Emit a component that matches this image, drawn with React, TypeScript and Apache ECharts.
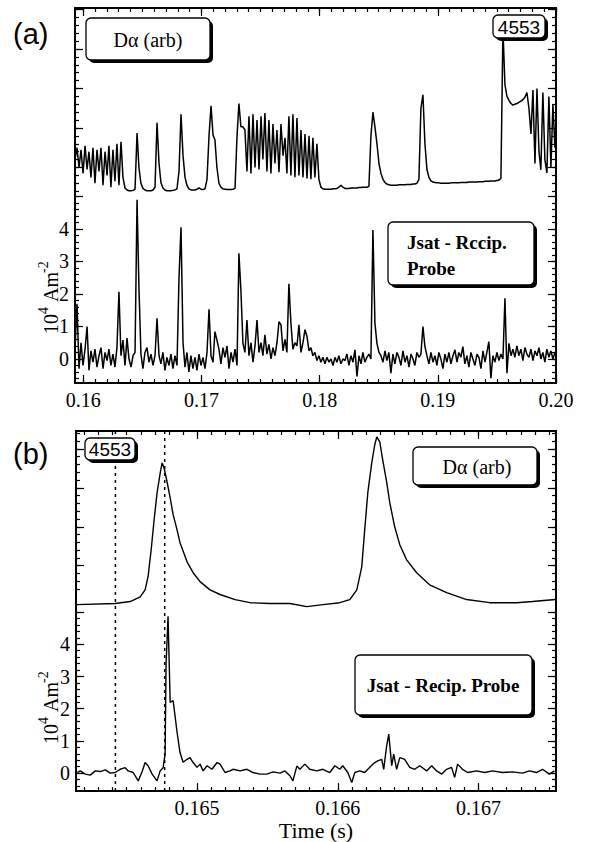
import React, { useEffect, useRef } from "react";
import * as echarts from "echarts";

// ---------- Panel (a): shared time grid (s) ----------
const timeA = [
  0.1593, 0.15947, 0.15964, 0.15981, 0.15998, 0.16015, 0.16032, 0.16048, 0.16065, 0.16082,
  0.16099, 0.16116, 0.16133, 0.1615, 0.16167, 0.16184, 0.16201, 0.16217, 0.16234, 0.16251,
  0.16268, 0.16285, 0.16302, 0.16319, 0.16336, 0.16353, 0.1637, 0.16387, 0.16404, 0.16421,
  0.16438, 0.16455, 0.16471, 0.16488, 0.16505, 0.16522, 0.16539, 0.16556, 0.16573, 0.1659,
  0.16607, 0.16624, 0.16641, 0.16657, 0.16674, 0.16691, 0.16708, 0.16725, 0.16742, 0.16759,
  0.16776, 0.16793, 0.1681, 0.16827, 0.16844, 0.16861, 0.16877, 0.16894, 0.16911, 0.16928,
  0.16945, 0.16962, 0.16979, 0.16996, 0.17013, 0.1703, 0.17047, 0.17064, 0.17081, 0.17098,
  0.17114, 0.17131, 0.17148, 0.17165, 0.17182, 0.17199, 0.17216, 0.17233, 0.1725, 0.17267,
  0.17284, 0.17301, 0.17317, 0.17334, 0.17351, 0.17368, 0.17385, 0.17402, 0.17419, 0.17436,
  0.17453, 0.1747, 0.17487, 0.17504, 0.1752, 0.17537, 0.17554, 0.17571, 0.17588, 0.17605,
  0.17622, 0.17639, 0.17656, 0.17673, 0.1769, 0.17707, 0.17723, 0.1774, 0.17757, 0.17774,
  0.17791, 0.17808, 0.17825, 0.17842, 0.17859, 0.17876, 0.17893, 0.1791, 0.17926, 0.17943,
  0.1796, 0.17977, 0.17994, 0.18011, 0.18028, 0.18045, 0.18062, 0.18079, 0.18096, 0.18113,
  0.1813, 0.18146, 0.18163, 0.1818, 0.18197, 0.18214, 0.18231, 0.18248, 0.18265, 0.18282,
  0.18299, 0.18316, 0.18333, 0.1835, 0.18366, 0.18383, 0.184, 0.18417, 0.18434, 0.18451,
  0.18468, 0.18485, 0.18502, 0.18519, 0.18536, 0.18553, 0.18569, 0.18586, 0.18603, 0.1862,
  0.18637, 0.18654, 0.18671, 0.18688, 0.18705, 0.18722, 0.18739, 0.18756, 0.18773, 0.1879,
  0.18806, 0.18823, 0.1884, 0.18857, 0.18874, 0.18891, 0.18908, 0.18925, 0.18942, 0.18959,
  0.18976, 0.18992, 0.19009, 0.19026, 0.19043, 0.1906, 0.19077, 0.19094, 0.19111, 0.19128,
  0.19145, 0.19162, 0.19178, 0.19195, 0.19212, 0.19229, 0.19246, 0.19263, 0.1928, 0.19297,
  0.19314, 0.19331, 0.19348, 0.19365, 0.19382, 0.19399, 0.19415, 0.19432, 0.19449, 0.19466,
  0.19483, 0.195, 0.19517, 0.19534, 0.19551, 0.19568, 0.19585, 0.19602, 0.19619, 0.19636,
  0.19652, 0.19669, 0.19686, 0.19703, 0.1972, 0.19737, 0.19754, 0.19771, 0.19788, 0.19805,
  0.19822, 0.19839, 0.19856, 0.19872, 0.19889, 0.19906, 0.19923, 0.1994, 0.19957, 0.19974,
  0.19991,
];

// Jsat (10^4 A m^-2), panel (a)
const jsatA = [
  0.3, 1.7, -0.3, 0.5, -0.2, 0.3, 1.0, -0.35, 0.25, -0.1,
  0.3, -0.25, 0.1, 0.35, -0.3, 0.2, -0.05, 0.3, -0.2, 0.15,
  -0.25, 0.35, 2.07, 0.1, 0.58, -0.2, 0.64, 0.0, -0.25, 0.1,
  0.2, 4.9, 2.2, 0.15, -0.3, 0.2, 0.35, -0.1, 0.15, -0.2,
  0.1, 1.25, 0.1, -0.15, 0.2, -0.35, 0.05, -0.2, 0.15, -0.3,
  0.1, -0.2, 2.5, 4.05, 0.5, -0.25, 0.2, -0.4, 0.1, -0.3,
  0.05, -0.35, 0.15, -0.2, 0.05, -0.3, 0.2, 1.53, 0.1, -0.1,
  0.84, 0.58, 0.3, -0.15, 0.35, 0.05, 0.4, -0.3, 0.2, -0.1,
  0.3, -0.2, 3.25, 2.1, 0.48, 0.2, 1.2, 0.1, 0.5, -0.1,
  0.4, 1.2, 0.2, 0.5, 0.1, 0.74, 0.15, 0.45, 0.0, 0.35,
  0.1, 0.5, 1.15, 1.05, 0.25, 0.6, 0.2, 2.31, 1.1, 0.3,
  0.5, 0.4, 1.05, 0.2, 0.5, 0.9, 0.69, 0.25, 0.35, 0.1,
  0.2, -0.05, 0.1, -0.1, 0.05, -0.15, 0.05, -0.1, 0.0, -0.2,
  0.05, -0.1, 0.1, -0.15, 0.0, -0.05, 0.15, -0.2, 0.1, -0.1,
  0.28, -0.54, 0.1, -0.15, 0.2, -0.1, 0.05, 0.15, 0.0, 3.97,
  1.1, 0.48, 0.2, 0.1, -0.1, 0.25, -0.05, 0.2, -0.44, 0.15,
  -0.15, 0.2, 0.05, -0.2, 0.25, -0.1, 0.1, -0.25, 0.15, 0.0,
  -0.2, 0.2, 0.05, 0.15, 1.0, 0.38, 0.1, -0.15, 0.2, -0.1,
  0.1, -0.2, 0.2, 0.0, -0.3, 0.15, -0.1, 0.2, -0.15, 0.1,
  0.28, -0.1, 0.2, 0.05, 0.38, -0.15, 0.1, -0.25, 0.2, 0.0,
  -0.2, 0.15, 0.05, -0.3, 0.25, -0.1, 0.2, 0.53, -0.59, 0.1,
  -0.1, 0.2, -0.05, 0.15, 0.0, 1.87, -0.44, 0.48, 0.1, 0.3,
  0.05, 0.4, 0.1, 0.3, -0.05, 0.35, 0.15, 0.05, 0.3, -0.05,
  0.25, 0.1, 0.35, 0.0, 0.2, -0.1, 0.3, 0.05, 0.25, 0.0,
  0.2,
];

// D-alpha (arb), panel (a)
const dalphaA = [
  1.2, 1.5, 1.0, 1.45, 0.85, 1.55, 0.95, 1.4, 0.75, 1.5,
  0.6, 1.45, 0.9, 1.5, 0.55, 1.4, 0.8, 1.55, 0.5, 1.45,
  0.65, 1.6, 0.55, 1.65, 0.75, 0.48, 0.43, 0.41, 0.41, 0.42,
  0.45, 1.87, 1.0, 0.6, 0.47, 0.43, 0.41, 0.41, 0.41, 0.43,
  0.5, 2.13, 1.1, 0.62, 0.48, 0.43, 0.41, 0.41, 0.41, 0.42,
  0.43, 0.46, 0.9, 2.35, 1.3, 0.75, 0.55, 0.46, 0.43, 0.43,
  0.43, 0.45, 0.48, 0.45, 0.44, 0.46, 0.7, 1.8, 2.56, 1.82,
  1.7, 1.0, 0.6, 0.5, 0.46, 0.45, 0.44, 0.44, 0.44, 0.45,
  0.47, 1.8, 2.62, 2.03, 2.03, 1.95, 0.9, 2.3, 0.85, 2.35,
  1.0, 2.2, 0.95, 2.3, 1.2, 2.38, 0.9, 2.2, 0.85, 2.1,
  1.1, 1.95, 0.88, 2.1, 1.3, 1.75, 0.85, 2.3, 0.8, 2.35,
  0.75, 2.25, 0.8, 1.95, 0.75, 1.85, 0.72, 1.8, 0.7, 1.75,
  0.75, 1.6, 0.7, 0.5, 0.46, 0.45, 0.45, 0.45, 0.45, 0.46,
  0.46, 0.47, 0.5, 0.55, 0.5, 0.47, 0.47, 0.47, 0.48, 0.48,
  0.48, 0.48, 0.49, 0.49, 0.5, 0.5, 0.5, 0.52, 1.8, 2.4,
  2.03, 1.6, 1.1, 0.85, 0.7, 0.62, 0.58, 0.56, 0.55, 0.55,
  0.55, 0.55, 0.56, 0.56, 0.56, 0.56, 0.57, 0.57, 0.57, 0.58,
  0.58, 0.6, 0.7, 2.5, 2.84, 1.6, 0.95, 0.75, 0.66, 0.63,
  0.62, 0.61, 0.61, 0.6, 0.6, 0.6, 0.6, 0.6, 0.61, 0.61,
  0.61, 0.61, 0.61, 0.62, 0.62, 0.62, 0.62, 0.63, 0.63, 0.63,
  0.63, 0.63, 0.64, 0.64, 0.64, 0.65, 0.65, 0.65, 0.66, 0.66,
  0.66, 0.67, 0.68, 0.72, 4.5, 3.1, 2.8, 2.7, 2.62, 2.58,
  2.6, 2.62, 2.65, 2.68, 2.72, 2.78, 2.9, 2.5, 1.85, 2.96,
  1.1, 3.0, 1.4, 0.94, 2.9, 1.2, 0.86, 2.8, 1.0, 2.6,
  1.5,
];

// ---------- Panel (b): [time (s), value] ----------
const dalphaB = [
  [0.164142, 0], [0.164418, 0.03], [0.164525, 0.08], [0.164596, 0.2], [0.164631, 0.38],
  [0.164652, 0.72], [0.164674, 1.41], [0.164695, 2.18], [0.164716, 2.87], [0.164738, 3.38],
  [0.164752, 3.64], [0.164766, 3.51], [0.164787, 3.15], [0.164809, 2.74], [0.16483, 2.31],
  [0.164858, 1.92], [0.164879, 1.59], [0.164929, 1.1], [0.164972, 0.82], [0.165021, 0.59],
  [0.165092, 0.38], [0.165163, 0.26], [0.16527, 0.13], [0.165376, 0.05], [0.165518, 0.03],
  [0.16566, 0.03], [0.16578, -0.05], [0.165894, 0], [0.166014, 0.05], [0.166085, 0.13],
  [0.166135, 0.38], [0.16617, 0.97], [0.166191, 1.92], [0.166213, 2.87], [0.166241, 3.64],
  [0.166262, 4.1], [0.166277, 4.31], [0.166298, 4.18], [0.166319, 3.72], [0.166348, 3.13],
  [0.166369, 2.62], [0.166404, 2.0], [0.16644, 1.54], [0.166489, 1.15], [0.16656, 0.82],
  [0.166652, 0.51], [0.166773, 0.31], [0.166915, 0.13], [0.167078, 0.05], [0.16727, 0.05],
  [0.167383, 0.08], [0.167546, 0.13],
];

const jsatB = [
  [0.164149, 0.02], [0.16417, 0.07], [0.164206, -0.03], [0.164241, -0.06], [0.164277, 0.07],
  [0.164312, 0.05], [0.164348, 0.1], [0.164383, 0], [0.164418, 0.02], [0.164454, 0.12],
  [0.164489, 0.17], [0.164511, 0.07], [0.164546, 0.02], [0.164582, -0.24], [0.16461, 0.05],
  [0.164631, 0.33], [0.164652, 0.23], [0.164681, -0.03], [0.164716, -0.24], [0.164738, 0.07],
  [0.164759, 0.17], [0.164773, 0.6], [0.16478, 3.4], [0.164794, 4.87], [0.164801, 3.6],
  [0.164809, 2.2], [0.16483, 2.25], [0.164858, 1.27], [0.164879, 0.64], [0.164901, 0.34],
  [0.164929, 0.43], [0.16495, 0.48], [0.164972, 0.33], [0.165, 0.18], [0.165021, 0.28],
  [0.165043, 0.07], [0.165071, 0.23], [0.165106, 0.12], [0.165142, 0.33], [0.165163, 0.28],
  [0.165199, 0.02], [0.165234, 0.07], [0.165255, 0.12], [0.165305, 0.07], [0.165355, 0.12],
  [0.165397, 0.02], [0.165447, -0.03], [0.165496, -0.03], [0.165539, 0.04], [0.165589, 0],
  [0.165624, 0.07], [0.16566, -0.08], [0.165681, -0.24], [0.165709, 0.22], [0.16573, 0.12],
  [0.165766, 0.28], [0.165801, 0.12], [0.165851, 0.07], [0.165894, 0.12], [0.165943, 0.02],
  [0.165979, 0.23], [0.166014, 0.12], [0.166035, 0.23], [0.166071, 0.02], [0.166099, -0.29],
  [0.166121, 0.02], [0.166156, 0.07], [0.166191, 0.02], [0.166227, 0.18], [0.166262, 0.33],
  [0.166284, 0.38], [0.166312, 0.43], [0.166326, 0.12], [0.166347, 0.85], [0.166362, 1.21],
  [0.166376, 0.55], [0.166383, 0.23], [0.166397, 0.59], [0.166418, 0.12], [0.16644, 0.48],
  [0.166475, 0.43], [0.166511, 0.18], [0.166546, 0.12], [0.166582, 0.23], [0.166631, 0.07],
  [0.166667, 0.23], [0.166702, 0.07], [0.166738, -0.03], [0.166773, 0.12], [0.166808, 0.18],
  [0.16683, -0.13], [0.166851, 0.28], [0.166886, 0.12], [0.166922, 0.02], [0.166986, 0.07],
  [0.167043, 0.02], [0.167099, 0.07], [0.16717, 0.02], [0.167241, 0.04], [0.167312, 0],
  [0.167362, 0.07], [0.167411, 0.02], [0.167454, 0.12], [0.167503, -0.03], [0.167539, 0.07],
];

// ---------- Tick labels ----------
const xTickValsA = [0.16, 0.17, 0.18, 0.19, 0.2];
const xTickLabelsA = ["0.16", "0.17", "0.18", "0.19", "0.20"];
const xTickValsB = [0.165, 0.166, 0.167];
const xTickLabelsB = ["0.165", "0.166", "0.167"];
const yTickValsJ = [0, 1, 2, 3, 4];
const yTickLabelsJ = ["0", "1", "2", "3", "4"];
const markerTimesB = [0.16442, 0.16477];

const SERIF = "Liberation Serif";
const SANS = "Liberation Sans";

function seq(a: number, b: number, step: number) {
  const out: number[] = [];
  const n = Math.round((b - a) / step);
  for (let i = 0; i <= n; i++) out.push(+(a + i * step).toFixed(6));
  return out;
}

function lookup(vals: number[], labels: string[]) {
  return (v: number) => {
    const i = vals.findIndex((t) => Math.abs(t - v) < 1e-7);
    return i >= 0 ? labels[i] : "";
  };
}

function axis(
  kind: "x" | "y",
  gridIndex: number,
  min: number,
  max: number,
  position: string,
  ticks: number[],
  len: number,
  showLine: boolean,
  labelVals?: number[],
  labels?: string[],
  extra?: any
) {
  return {
    type: "value",
    gridIndex,
    min,
    max,
    position,
    axisLine: { show: showLine, onZero: false, lineStyle: { color: "#000", width: 2 } },
    axisTick: {
      show: true,
      inside: true,
      length: len,
      customValues: ticks,
      lineStyle: { color: "#000", width: 1.2 },
    },
    axisLabel: labelVals
      ? {
          show: true,
          customValues: labelVals,
          formatter: lookup(labelVals, labels || []),
          color: "#000",
          fontFamily: SERIF,
          fontWeight: "normal",
          fontSize: 20,
          margin: kind === "x" ? 7 : 6,
        }
      : { show: false },
    splitLine: { show: false },
    axisPointer: { show: false },
    ...(extra || {}),
  };
}

function box(x: number, y: number, w: number, h: number) {
  return [
    { type: "rect", z: 99, silent: true, shape: { x: x + 3, y: y + 3, width: w, height: h, r: 5 }, style: { fill: "#000" } },
    { type: "rect", z: 100, silent: true, shape: { x, y, width: w, height: h, r: 5 }, style: { fill: "#fff", stroke: "#000", lineWidth: 1.3 } },
  ];
}

function txt(x: number, y: number, text: string, size: number, font: string, align = "center", weight = "normal") {
  return {
    type: "text",
    z: 101,
    silent: true,
    x,
    y,
    style: {
      text,
      fill: "#000",
      fontSize: size,
      fontFamily: font,
      fontWeight: weight,
      align,
      textAlign: align,
      verticalAlign: "middle",
      textVerticalAlign: "middle",
    },
  };
}

function yTitle(cx: number, cy: number) {
  return {
    type: "group",
    x: cx,
    y: cy,
    rotation: Math.PI / 2,
    z: 101,
    silent: true,
    children: [
      txt(-41, 0, "10", 20, SERIF, "left"),
      txt(-21, -8, "4", 14, SERIF, "left"),
      txt(-9, 0, "Am", 20, SERIF, "left"),
      txt(20, -8, "-2", 14, SERIF, "left"),
    ],
  };
}

const App: React.FC = () => {
  const ref = useRef<HTMLDivElement>(null);

  useEffect(() => {
    if (!ref.current) return;
    const chart = echarts.init(ref.current, undefined, { renderer: "svg" });

    // ranges
    const xA = [0.1593, 0.2];
    const xB = [0.16414, 0.16755];
    const jA = [-0.74, 10.8];
    const dA = [-4.46, 5.04];
    const jB = [-0.557, 10.62];
    const dB = [-4.79, 4.46];

    const xMinorA = seq(0.16, 0.2, 0.001);
    const xMinorB = seq(0.1642, 0.1675, 0.0001);

    const xAxes = [
      axis("x", 0, xA[0], xA[1], "bottom", xTickValsA, 8, true, xTickValsA, xTickLabelsA),
      axis("x", 0, xA[0], xA[1], "top", xTickValsA, 8, true),
      axis("x", 0, xA[0], xA[1], "bottom", xMinorA, 4, false),
      axis("x", 0, xA[0], xA[1], "top", xMinorA, 4, false),
      axis("x", 1, xB[0], xB[1], "bottom", xTickValsB, 8, true, xTickValsB, xTickLabelsB, {
        name: "Time (s)",
        nameLocation: "middle",
        nameGap: 27,
        nameTextStyle: { color: "#000", fontFamily: SERIF, fontSize: 22, verticalAlign: "top" },
      }),
      axis("x", 1, xB[0], xB[1], "top", xTickValsB, 8, true),
      axis("x", 1, xB[0], xB[1], "bottom", xMinorB, 4, false),
      axis("x", 1, xB[0], xB[1], "top", xMinorB, 4, false),
    ];

    const yPanel = (g: number, j: number[], d: number[], jMinor: number[], dMajor: number[], dMinor: number[]) => [
      axis("y", g, j[0], j[1], "left", seq(0, 5, 1), 8, true, yTickValsJ, yTickLabelsJ),
      axis("y", g, j[0], j[1], "right", seq(0, 5, 1), 8, true),
      axis("y", g, j[0], j[1], "left", jMinor, 4, false),
      axis("y", g, j[0], j[1], "right", jMinor, 4, false),
      axis("y", g, d[0], d[1], "left", dMajor, 8, false),
      axis("y", g, d[0], d[1], "right", dMajor, 8, false),
      axis("y", g, d[0], d[1], "left", dMinor, 4, false),
      axis("y", g, d[0], d[1], "right", dMinor, 4, false),
    ];

    const yAxes = [
      ...yPanel(0, jA, dA, seq(-0.6, 5, 0.2), seq(1, 5, 1), seq(0.4, 5, 0.2)),
      ...yPanel(1, jB, dB, seq(-0.4, 5, 0.2), seq(1, 4, 1), seq(0.4, 4.4, 0.2)),
    ];

    const lineA = { color: "#000", width: 1.5 };
    const lineB = { color: "#000", width: 1.4 };

    const series: any[] = [
      {
        type: "line",
        xAxisIndex: 0,
        yAxisIndex: 4,
        data: timeA.map((t, i) => [t, dalphaA[i]]),
        showSymbol: false,
        symbol: "none",
        lineStyle: lineA,
        silent: true,
      },
      {
        type: "line",
        xAxisIndex: 0,
        yAxisIndex: 0,
        data: timeA.map((t, i) => [t, jsatA[i]]),
        showSymbol: false,
        symbol: "none",
        lineStyle: lineA,
        silent: true,
      },
      {
        type: "line",
        xAxisIndex: 4,
        yAxisIndex: 12,
        data: dalphaB,
        showSymbol: false,
        symbol: "none",
        lineStyle: lineB,
        silent: true,
      },
      {
        type: "line",
        xAxisIndex: 4,
        yAxisIndex: 8,
        data: jsatB,
        showSymbol: false,
        symbol: "none",
        lineStyle: lineB,
        silent: true,
      },
      ...markerTimesB.map((t) => ({
        type: "line",
        xAxisIndex: 4,
        yAxisIndex: 8,
        data: [
          [t, jB[0]],
          [t, jB[1]],
        ],
        showSymbol: false,
        symbol: "none",
        silent: true,
        z: 1,
        lineStyle: { color: "#000", width: 1.5, type: [3, 4] },
      })),
    ];

    const graphic: any[] = [
      txt(13, 34, "(a)", 29, SANS, "left"),
      txt(13, 454, "(b)", 29, SANS, "left"),
      // panel (a)
      ...box(86, 18, 124, 42),
      txt(148, 40, "D\u03b1 (arb)", 20, SERIF),
      ...box(493, 15, 52, 23),
      txt(519, 27, "4553", 19, SANS),
      ...box(388, 222, 146, 63),
      txt(407, 242, "Jsat - Rccip.", 19, SERIF, "left", "bold"),
      txt(407, 268, "Probe", 19, SERIF, "left", "bold"),
      yTitle(51, 293),
      // panel (b)
      ...box(85, 438, 50, 22),
      txt(110, 449, "4553", 19, SANS),
      ...box(413, 447, 124, 38),
      txt(477, 467, "D\u03b1 (arb)", 20, SERIF),
      ...box(355, 655, 177, 60),
      txt(443, 685, "Jsat - Recip. Probe", 19, SERIF, "center", "bold"),
      yTitle(51, 703),
    ];

    chart.setOption({
      animation: false,
      backgroundColor: "#fff",
      grid: [
        { left: 75, top: 8, width: 481, height: 375, containLabel: false },
        { left: 76, top: 431, width: 480, height: 361, containLabel: false },
      ],
      xAxis: xAxes,
      yAxis: yAxes,
      series,
      graphic,
    });

    return () => chart.dispose();
  }, []);

  return (
    <div
      ref={ref}
      style={{ position: "fixed", left: 0, top: 0, width: 591, height: 842, background: "#fff" }}
    />
  );
};

export default App;
